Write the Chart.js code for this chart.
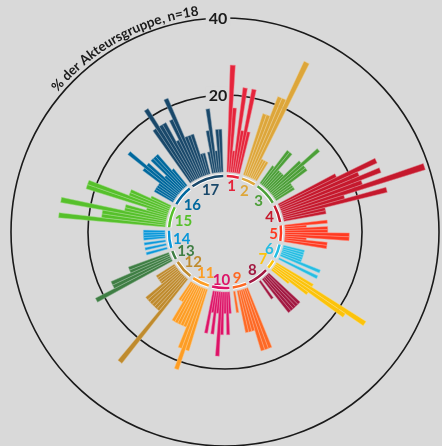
<!DOCTYPE html>
<html>
<head>
<meta charset="utf-8">
<script src="https://cdn.jsdelivr.net/npm/chart.js@4.4.1/dist/chart.umd.min.js"></script>
<style>
  html, body { margin: 0; padding: 0; background: #d9d9d9; overflow: hidden; }
  #wrap { position: relative; width: 442px; height: 446px; }
</style>
</head>
<body>
<div id="wrap"><canvas id="chart"></canvas></div>
<script>
// SDG groups, one value per target (% of the actor group, n=18)
const sdgLabels = ['1', '2', '3', '4', '5', '6', '7', '8', '9', '10', '11', '12', '13', '14', '15', '16', '17'];

const sdg01 = [27.8, 16.7, 5.6, 22.2, 11.1, 22.2, 11.1];
const sdg02 = [16.7, 16.7, 22.2, 22.2, 33.3, 5.6, 5.6, 5.6];
const sdg03 = [5.6, 11.1, 11.1, 5.6, 5.6, 5.6, 11.1, 16.7, 11.1, 11.1, 5.6, 5.6, 5.6];
const sdg04 = [16.7, 27.8, 22.2, 27.8, 22.2, 38.9, 16.7, 27.8, 11.1, 11.1];
const sdg05 = [11.1, 5.6, 11.1, 11.1, 16.7, 16.7, 5.6, 11.1, 11.1];
const sdg06 = [5.6, 5.6, 5.6, 5.6, 5.6, 11.1, 0, 11.1];
const sdg07 = [11.1, 27.8, 22.2, 11.1, 5.6];
const sdg08 = [11.1, 11.1, 11.1, 11.1, 11.1, 0, 5.6, 0, 0, 0, 0, 0];
const sdg09 = [16.7, 16.7, 16.7, 11.1, 11.1, 11.1, 0, 5.6];
const sdg10 = [5.6, 11.1, 5.6, 11.1, 16.7, 5.6, 11.1, 5.6, 11.1, 0];
const sdg11 = [16.7, 22.2, 16.7, 11.1, 11.1, 11.1, 11.1, 11.1, 5.6, 5.6];
const sdg12 = [27.8, 11.1, 11.1, 11.1, 11.1, 11.1, 11.1, 5.6, 5.6, 5.6, 5.6];
const sdg13 = [22.2, 16.7, 16.7, 11.1, 11.1];
const sdg14 = [5.6, 0, 5.6, 0, 5.6, 0, 5.6, 5.6, 5.6, 5.6];
const sdg15 = [27.8, 16.7, 16.7, 27.8, 11.1, 11.1, 5.6, 22.2, 22.2, 11.1, 11.1, 5.6];
const sdg16 = [5.6, 5.6, 5.6, 5.6, 11.1, 16.7, 11.1, 5.6, 11.1, 11.1, 11.1, 5.6];
const sdg17 = [16.7, 22.2, 16.7, 16.7, 11.1, 16.7, 22.2, 11.1, 11.1, 11.1, 5.6, 5.6, 0, 5.6, 11.1, 16.7, 5.6, 11.1, 11.1];

const scaleTicks = [20, 40];
const axisTitle = '% der Akteursgruppe, n=18';

// official SDG colours
const sdgColors = [
  '#E5243B', '#DDA63A', '#4C9F38', '#C5192D', '#FF3A21', '#26BDE2',
  '#FCC30B', '#A21942', '#FD6925', '#DD1367', '#FD9D24', '#BF8B2E',
  '#3F7E44', '#0A97D9', '#56C02B', '#00689D', '#19486A'
];

const groups = [sdg01, sdg02, sdg03, sdg04, sdg05, sdg06, sdg07, sdg08, sdg09,
  sdg10, sdg11, sdg12, sdg13, sdg14, sdg15, sdg16, sdg17];

const NONE = 'rgba(0,0,0,0)';
const GAP_SLOTS = 2;
const LABEL_FONT = 'bold 15px Lato, "Open Sans", sans-serif';

// lighter shade of a colour, used for the thin separators
function tint(hex, f) {
  const n = parseInt(hex.slice(1), 16);
  const mix = c => Math.round(c + (255 - c) * f);
  return `rgb(${mix(n >> 16)}, ${mix((n >> 8) & 255)}, ${mix(n & 255)})`;
}

// flatten groups into one ring, with empty slots between groups
const values = [0];
const barColors = [NONE];
const edgeColors = [NONE];
const groupSlots = [];
groups.forEach((g, gi) => {
  const first = values.length;
  g.forEach(v => {
    values.push(v);
    barColors.push(sdgColors[gi]);
    edgeColors.push(tint(sdgColors[gi], 0.45));
  });
  groupSlots.push({ first, last: values.length - 1 });
  if (gi < groups.length - 1) {
    for (let k = 0; k < GAP_SLOTS; k++) { values.push(0); barColors.push(NONE); edgeColors.push(NONE); }
  }
});
values.push(0);
barColors.push(NONE);
edgeColors.push(NONE);

// bars start at value 0, not at the centre
const innerHole = {
  id: 'innerHole',
  afterDatasetsUpdate(chart) {
    const r0 = chart.scales.r.getDistanceFromCenterForValue(0);
    chart.getDatasetMeta(0).data.forEach(el => { el.innerRadius = r0; });
  }
};

// 20 / 40 labels sitting on the rings
const ringLabels = {
  id: 'ringLabels',
  beforeDatasetsDraw(chart) {
    const s = chart.scales.r;
    const ctx = chart.ctx;
    ctx.save();
    ctx.font = 'bold 16px Lato, "Open Sans", sans-serif';
    ctx.textAlign = 'center';
    ctx.textBaseline = 'middle';
    scaleTicks.forEach(v => {
      const x = s.xCenter - 7;
      const y = s.yCenter - s.getDistanceFromCenterForValue(v);
      const w = ctx.measureText(String(v)).width;
      ctx.fillStyle = '#d9d9d9';
      ctx.fillRect(x - w / 2 - 3, y - 8, w + 6, 16);
      ctx.fillStyle = '#1a1a1a';
      ctx.fillText(String(v), x, y + 1);
    });
    ctx.restore();
  }
};

// small coloured arcs and SDG numbers inside the ring
const groupDecor = {
  id: 'groupDecor',
  afterDatasetsDraw(chart) {
    const s = chart.scales.r;
    const ctx = chart.ctx;
    const cx = s.xCenter, cy = s.yCenter;
    const r0 = s.getDistanceFromCenterForValue(0);
    const els = chart.getDatasetMeta(0).data;
    ctx.save();
    ctx.lineCap = 'butt';
    ctx.font = LABEL_FONT;
    ctx.textAlign = 'center';
    ctx.textBaseline = 'middle';
    groupSlots.forEach((g, gi) => {
      const a0 = els[g.first].startAngle;
      const a1 = els[g.last].endAngle;
      ctx.beginPath();
      ctx.arc(cx, cy, r0 - 4, a0, a1);
      ctx.strokeStyle = '#ffffff';
      ctx.lineWidth = 4.5;
      ctx.stroke();
      ctx.strokeStyle = sdgColors[gi];
      ctx.lineWidth = 2.5;
      ctx.stroke();
      // keep the outer edge of each number's box at the same radius
      const mid = (a0 + a1) / 2;
      const hw = ctx.measureText(sdgLabels[gi]).width / 2;
      const hh = 5.5;
      const reach = Math.abs(Math.cos(mid)) * hw + Math.abs(Math.sin(mid)) * hh;
      const lr = r0 - 7 - reach;
      ctx.fillStyle = sdgColors[gi];
      ctx.fillText(sdgLabels[gi], cx + lr * Math.cos(mid), cy + lr * Math.sin(mid) + 1);
    });
    ctx.restore();
  }
};

// axis title bent along the outer ring
const curvedTitle = {
  id: 'curvedTitle',
  afterDraw(chart) {
    const s = chart.scales.r;
    const ctx = chart.ctx;
    const cx = s.xCenter, cy = s.yCenter;
    const R = s.getDistanceFromCenterForValue(40) + 4;
    ctx.save();
    ctx.font = 'bold 13.5px Lato, "Open Sans", sans-serif';
    ctx.fillStyle = '#1a1a1a';
    ctx.textAlign = 'center';
    ctx.textBaseline = 'alphabetic';
    const total = ctx.measureText(axisTitle).width;
    const centre = -28.5 * Math.PI / 180;
    let a = centre - total / (2 * R);
    for (const ch of axisTitle) {
      const w = ctx.measureText(ch).width;
      const m = a + w / (2 * R);
      ctx.save();
      ctx.translate(cx + R * Math.sin(m), cy - R * Math.cos(m));
      ctx.rotate(m);
      ctx.fillText(ch, 0, 0);
      ctx.restore();
      a += w / R;
    }
    ctx.restore();
  }
};

new Chart(document.getElementById('chart'), {
  type: 'polarArea',
  data: {
    labels: values.map((_, i) => String(i)),
    datasets: [{
      data: values,
      backgroundColor: barColors,
      borderColor: edgeColors,
      borderWidth: c => (c.raw > 0 ? 0.5 : 0)
    }]
  },
  options: {
    responsive: true,
    maintainAspectRatio: false,
    animation: false,
    layout: { padding: { left: 9, right: -1, top: 18, bottom: -6 } },
    plugins: {
      legend: { display: false },
      tooltip: { enabled: false }
    },
    scales: {
      r: {
        min: -15.6,
        max: 40,
        startAngle: 0,
        afterBuildTicks: scale => {
          scale.ticks = [scale.min, ...scaleTicks].map(v => ({ value: v }));
        },
        grid: {
          circular: true,
          color: c => (c.tick && c.tick.value > 0 ? '#1a1a1a' : NONE),
          lineWidth: 1.6
        },
        angleLines: { display: false },
        pointLabels: { display: false },
        ticks: { display: false }
      }
    }
  },
  plugins: [innerHole, ringLabels, groupDecor, curvedTitle]
});
</script>
</body>
</html>
